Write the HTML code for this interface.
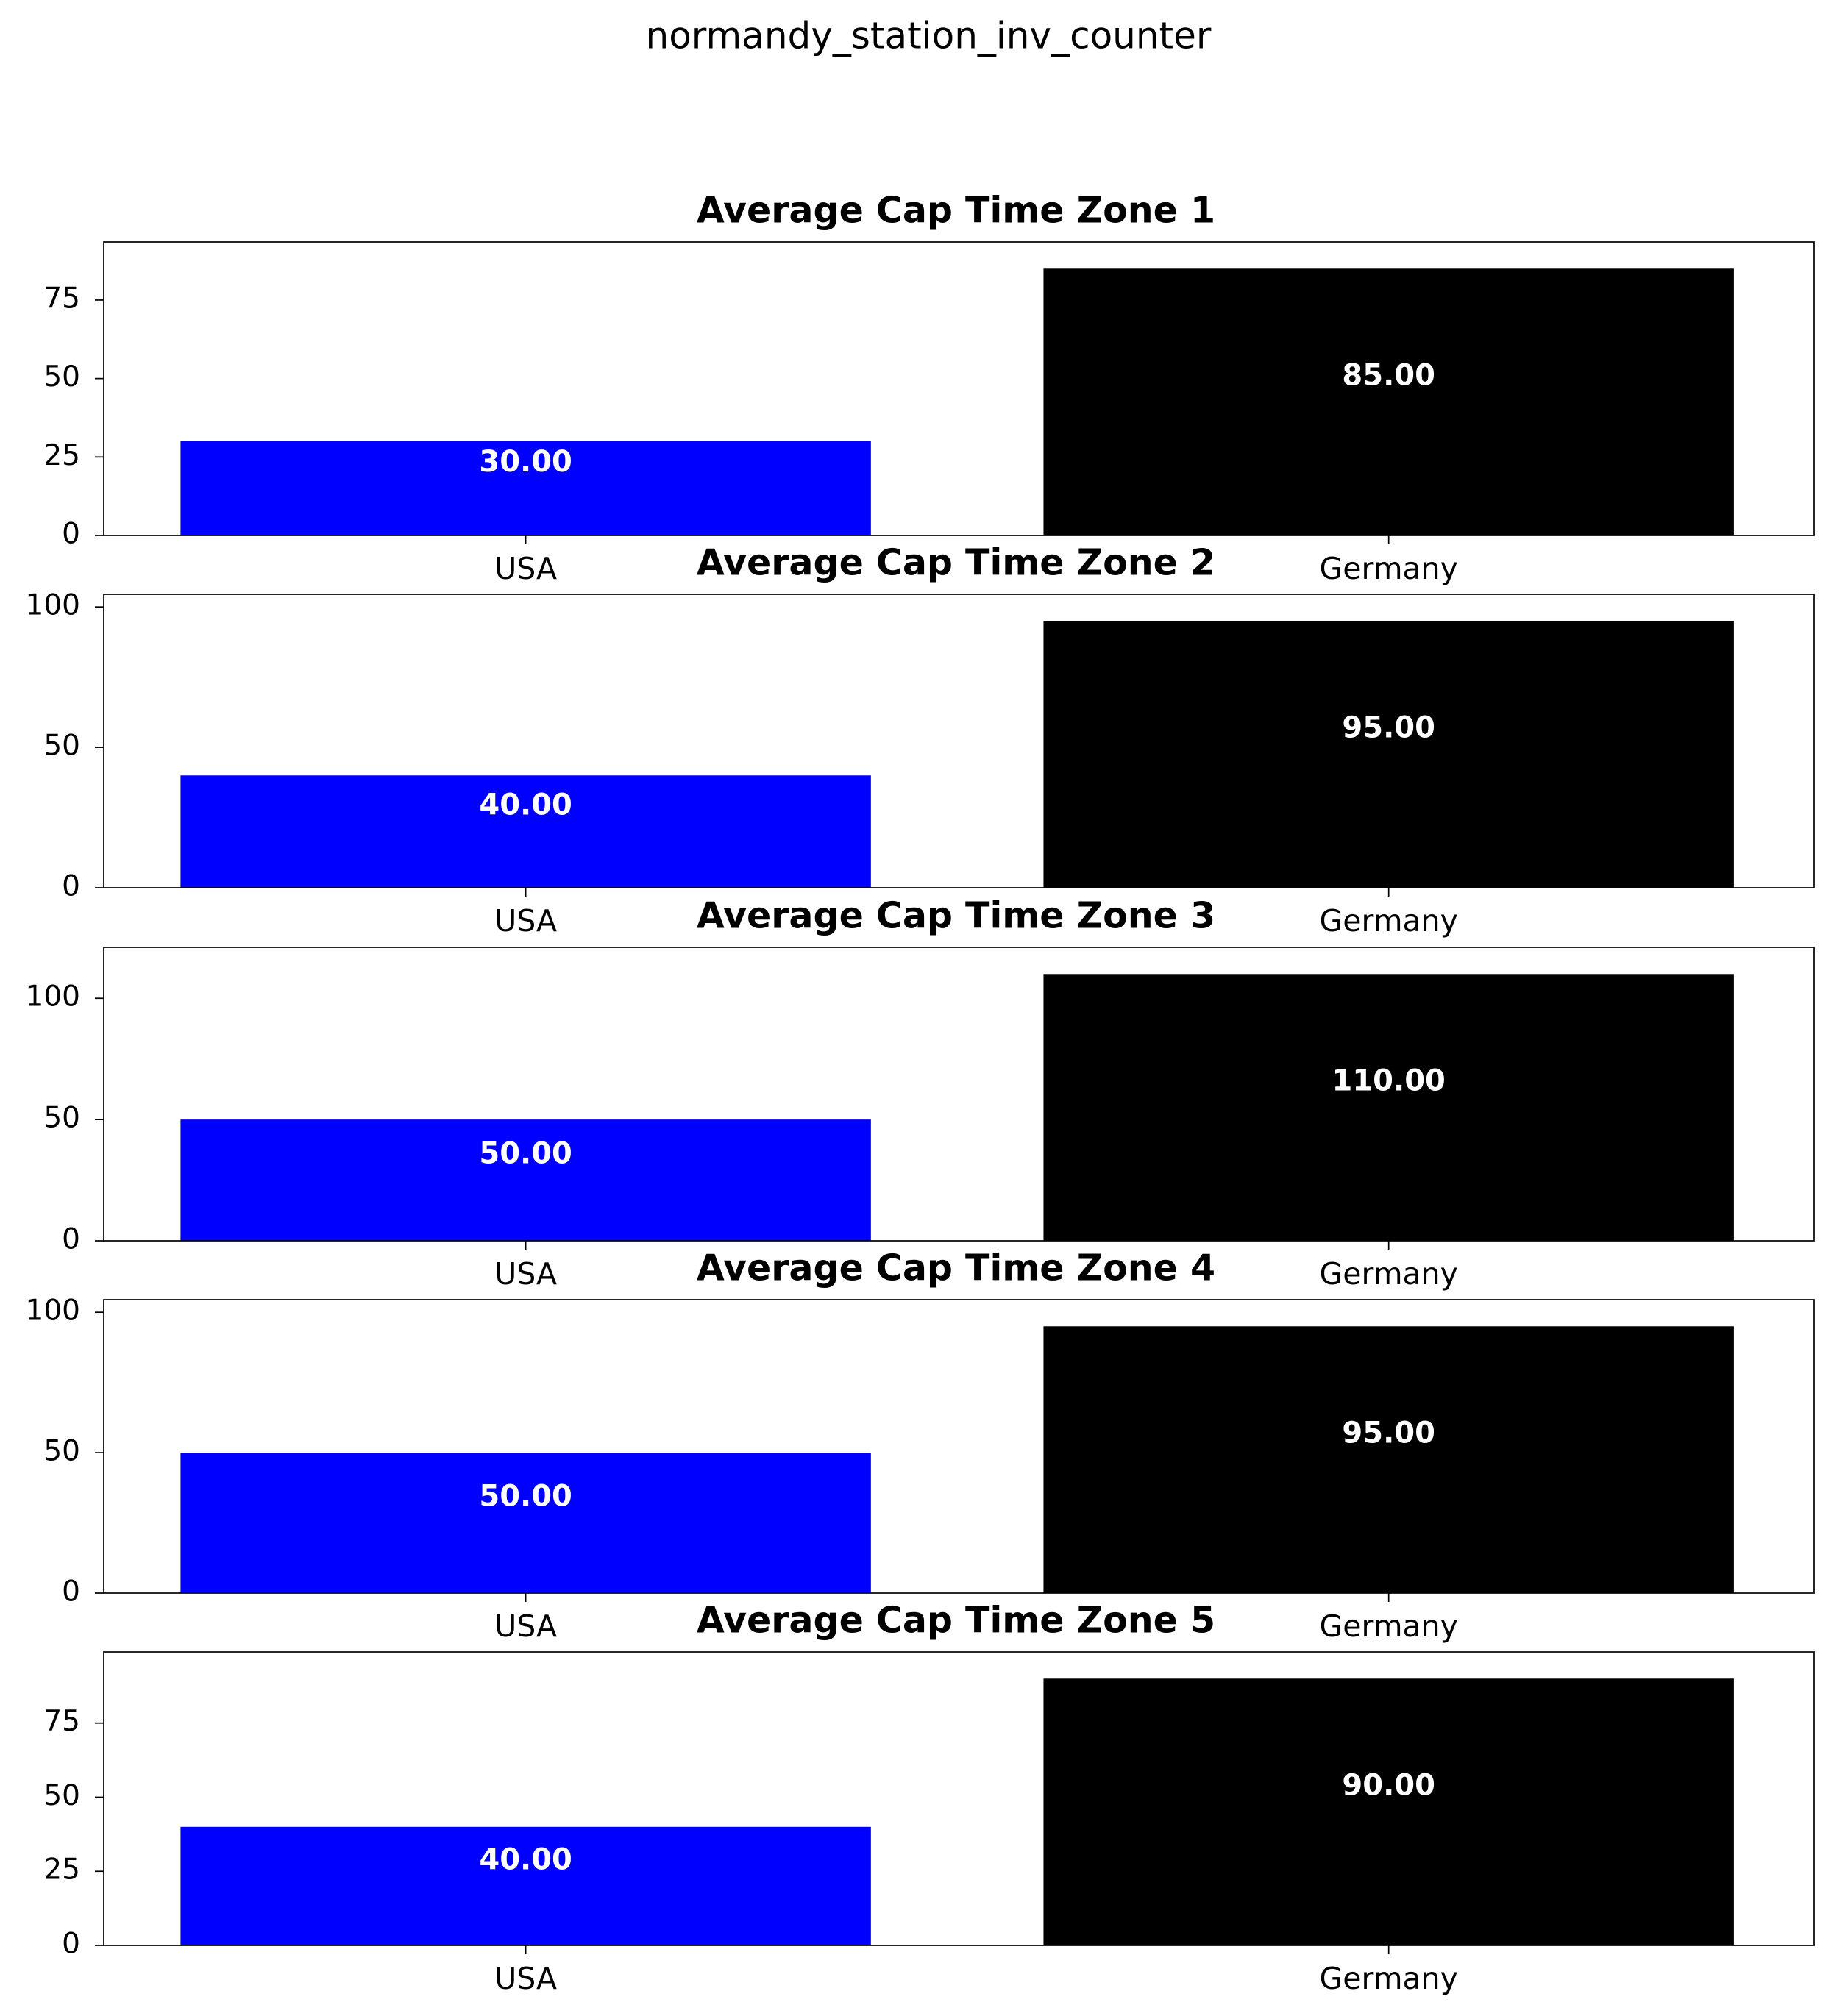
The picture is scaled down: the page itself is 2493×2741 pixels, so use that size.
<!DOCTYPE html>
<html><head><meta charset="utf-8"><style>body{margin:0;background:#fff}svg{display:block}text{font-family:"DejaVu Sans","Liberation Sans",sans-serif}</style></head>
<body>
<svg id="chart" width="2493" height="2741" viewBox="0 0 2493 2741" xmlns="http://www.w3.org/2000/svg">
<rect width="2493" height="2741" fill="#fff"/>
<text x="1262" y="52" font-size="50" text-anchor="middle" dominant-baseline="middle">normandy_station_inv_counter</text>
</svg>
<script>
const categories = ["USA", "Germany"];
const zoneTitles = ["Average Cap Time Zone 1","Average Cap Time Zone 2","Average Cap Time Zone 3","Average Cap Time Zone 4","Average Cap Time Zone 5"];
const usaValues = [30, 40, 50, 50, 40];
const germanyValues = [85, 95, 110, 95, 90];
const yTicks = [[0,25,50,75],[0,50,100],[0,50,100],[0,50,100],[0,25,50,75]];
const barColors = ["#0000ff", "#000000"];

const svg = document.getElementById('chart');
const NS = "http://www.w3.org/2000/svg";
function mk(tag, attrs, parent){const e=document.createElementNS(NS,tag);for(const k in attrs)e.setAttribute(k,attrs[k]);(parent||svg).appendChild(e);return e;}
const L=141, R=2466, H=399, tops=[329,808,1288,1767,2246];
const xmin=-0.489, xmax=1.493;
function xs(v){return L+(v-xmin)/(xmax-xmin)*(R-L);}
zoneTitles.forEach((t,i)=>{
  const top=tops[i], bot=top+H;
  const vals=[usaValues[i], germanyValues[i]];
  const ymax=Math.max(...vals)*1.1;
  const ys=v=>bot-v/ymax*H;
  const g=mk('g',{});
  
  
  const tt=mk('text',{x:(L+R)/2-4,y:top-40,'font-size':49,'font-weight':'bold','text-anchor':'middle','dominant-baseline':'middle'},g);
  tt.textContent=t;
  
  
  vals.forEach((v,j)=>{
    const x0=xs(j-0.4), x1=xs(j+0.4);
    const r=mk('rect',{x:x0,y:ys(v),width:x1-x0,height:bot-ys(v),fill:barColors[j]},g);
    
    
    const lb=mk('text',{x:xs(j),y:(ys(v)+bot)/2-34,'font-size':40,'font-weight':'bold',fill:'#fff','text-anchor':'middle','dominant-baseline':'middle'},g);
    lb.textContent=v.toFixed(2);
    
    
    mk('line',{x1:xs(j),x2:xs(j),y1:bot,y2:bot+12,stroke:'#000','stroke-width':1.7},g);
    const xl=mk('text',{x:xs(j),y:bot+48,'font-size':41,'text-anchor':'middle','dominant-baseline':'middle'},g);
    xl.textContent=categories[j];
    
    
  });
  yTicks[i].forEach(tv=>{
    mk('line',{x1:L-12,x2:L,y1:ys(tv),y2:ys(tv),stroke:'#000','stroke-width':1.7},g);
    const yl=mk('text',{x:L-32,y:ys(tv),'font-size':39,'text-anchor':'end','dominant-baseline':'middle'},g);
    yl.textContent=tv;
    
    
  });
  const fr=mk('rect',{x:L,y:top,width:R-L,height:H,fill:'none',stroke:'#000','stroke-width':1.7},g);
  
  
});
</script>
</body></html>
